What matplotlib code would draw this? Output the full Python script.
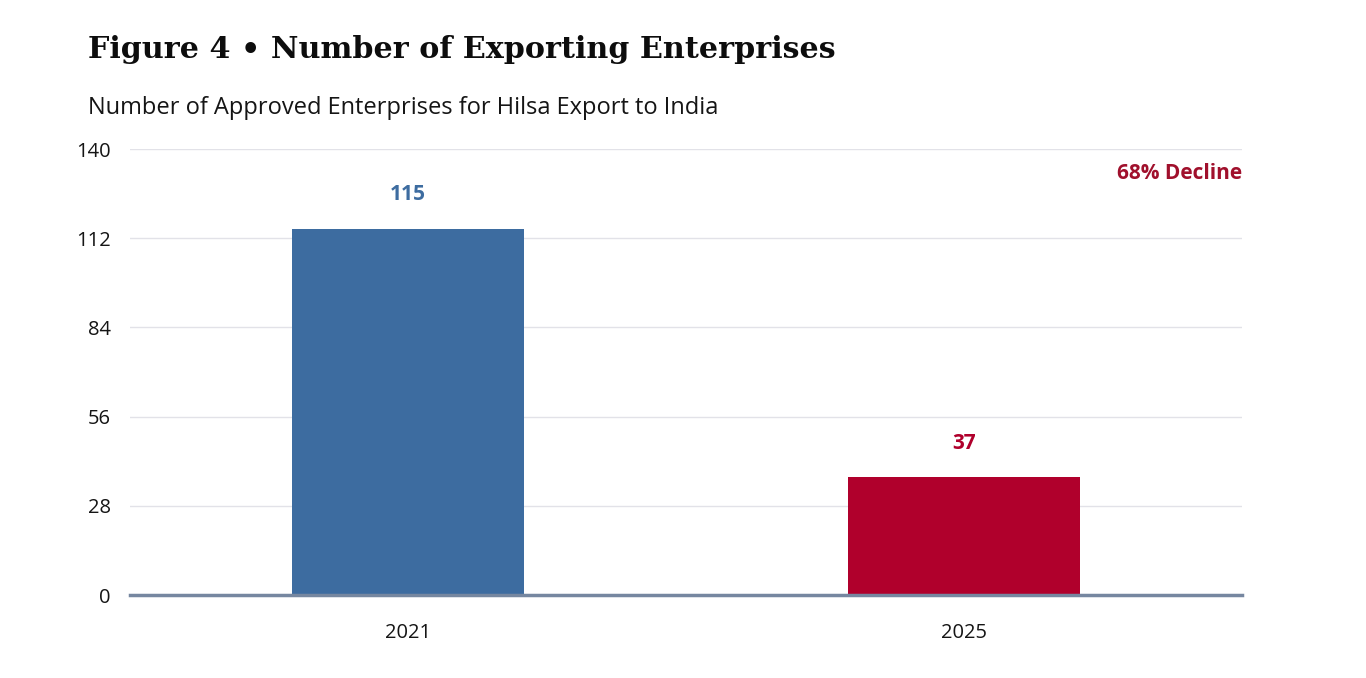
import matplotlib
matplotlib.use("Agg")
import matplotlib.pyplot as plt

# chart data
years = ["2021", "2025"]
enterprises = [115, 37]
bar_colors = ["#3d6ca0", "#b0002c"]
yticks = [0, 28, 56, 84, 112, 140]
note = "68% Decline"

title = "Figure 4 \u2022 Number of Exporting Enterprises"
subtitle = "Number of Approved Enterprises for Hilsa Export to India"

fig = plt.figure(figsize=(13.66, 6.78), dpi=100)
ax = fig.add_axes([0.0952, 0.1224, 0.8140, 0.6578])

x = list(range(len(years)))
ax.bar(x, enterprises, width=0.417, color=bar_colors, zorder=2)

for xi, v, c in zip(x, enterprises, bar_colors):
    ax.annotate(str(v), (xi, v), xytext=(0, 17), textcoords="offset points",
                ha="center", va="bottom", fontsize=15, fontweight="bold",
                color=c, family="Open Sans")

ax.set_xlim(-0.5, 1.5)
ax.set_ylim(0, 140)
ax.set_yticks(yticks)
ax.set_xticks(x)
ax.set_xticklabels(years)
ax.grid(axis="y", color="#e2e2e8", linewidth=1, zorder=0)
for s in ["top", "right", "left"]:
    ax.spines[s].set_visible(False)
ax.spines["bottom"].set_color("#7687a0")
ax.spines["bottom"].set_linewidth(2.5)
ax.spines["bottom"].set_zorder(3)
ax.tick_params(axis="both", length=0, labelsize=14.5, colors="#151515")
ax.tick_params(axis="y", pad=14)
ax.tick_params(axis="x", pad=20)
for lab in ax.get_xticklabels() + ax.get_yticklabels():
    lab.set_family("Open Sans")

ax.text(1.0, 0.945, note, transform=ax.transAxes, ha="right", va="center",
        fontsize=15, fontweight="bold", color="#a0102c", family="Open Sans")

fig.text(88 / 1366, 1 - 50 / 678, title, ha="left", va="center",
         fontsize=21.7, fontweight="bold", family="DejaVu Serif", color="#0d0d0d")
fig.text(88 / 1366, 1 - 108 / 678, subtitle, ha="left", va="center",
         fontsize=17, family="Open Sans", color="#151515")

fig.savefig("out.png", dpi=100, facecolor="white")
